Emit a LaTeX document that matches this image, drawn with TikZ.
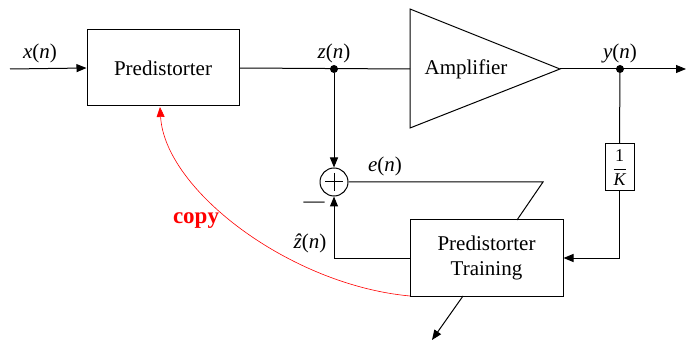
\documentclass[tikz,border=0pt]{standalone}
\usepackage{fontspec}
\setmainfont{Liberation Serif}
\usetikzlibrary{arrows.meta}
\begin{document}
\begin{tikzpicture}[x=1pt,y=-1pt,
  blk/.style={draw,line width=1pt,rectangle,inner sep=0pt,font=\fontsize{21}{25}\selectfont,align=center},
  lbl/.style={inner sep=0pt,font=\fontsize{21}{25}\selectfont},
  wire/.style={line width=1pt},
  arr/.style={line width=1pt,-{Triangle[length=10pt,width=8pt]}},
  dotn/.style={circle,fill=black,inner sep=0pt,minimum size=8pt},
  redarr/.style={red,line width=0.6pt,-{Triangle[length=10pt,width=8pt]}}]
\useasboundingbox (0,0) rectangle (686,342);
% blocks
\node[blk,minimum width=152pt,minimum height=76pt] (pre) at (163,68) {Predistorter};
\node[blk,minimum width=153pt,minimum height=76pt] (train) at (486.5,258) {Predistorter\\Training};
\node[draw,line width=1pt,circle,minimum size=28pt,inner sep=0pt] (sum) at (334,182) {};
\draw[line width=1pt] (sum.center) ++(-9,0) -- ++(18,0) (sum.center) ++(0,-9) -- ++(0,18);
\node[draw,line width=1pt,minimum width=29pt,minimum height=47pt,inner sep=0pt] (kbox) at (619.5,167.5)
  {\fontsize{18}{20}\selectfont$\displaystyle\frac{\textup{1}}{\textit{K}}$};
% amplifier
\coordinate (ampin) at (410,69);
\coordinate (ampout) at (560,69);
\draw[line width=1pt] (410,9) -- (ampout) -- (410,128) -- cycle;
\node[lbl] (amptxt) at (466,69) {Amplifier};
% dots
\node[dotn] (zdot) at (334,69) {};
\node[dotn] (ydot) at (620,69) {};
% coordinates
\coordinate (xin) at (10,69);
\coordinate (yend) at (686,69);
\coordinate (ecorner) at (543,182);
\coordinate (etop) at (517,220);
\coordinate (tbot) at (463,296);
\coordinate (outend) at (432,340);
\coordinate (tcorner) at (410,296);
\coordinate (precopy) at (160,107);
% connectors
\draw[arr] (xin) -- (pre.west);
\draw[wire] (pre.east) -- (ampin);
\draw[arr] (zdot) -- (sum.north);
\draw[arr] (ampout) -- (yend);
\draw[wire] (ydot) -- (kbox.north);
\draw[arr] (kbox.south) |- (train.east);
\draw[wire] (sum.east) -- (ecorner) -- (etop);
\draw[arr] (train.west) -| (sum.south);
\draw[arr] (tbot) -- (outend);
\draw[redarr] (tcorner) .. controls (290,285) and (165,190) .. (precopy);
% labels
\node[lbl] (xl) at (40,53) {\textit{x}(\textit{n})};
\node[lbl] (zl) at (334,53) {\textit{z}(\textit{n})};
\node[lbl] (yl) at (620,53) {\textit{y}(\textit{n})};
\node[lbl] (el) at (385,166) {\textit{e}(\textit{n})};
\node[lbl] (zhl) at (310,243) {\textit{\^z}(\textit{n})};
\node[lbl] (minus) at (314,205) {—};
\node[inner sep=0pt,text=red,font=\fontsize{23}{26}\selectfont\bfseries] (copy) at (196,221) {copy};
\end{tikzpicture}
\end{document}
